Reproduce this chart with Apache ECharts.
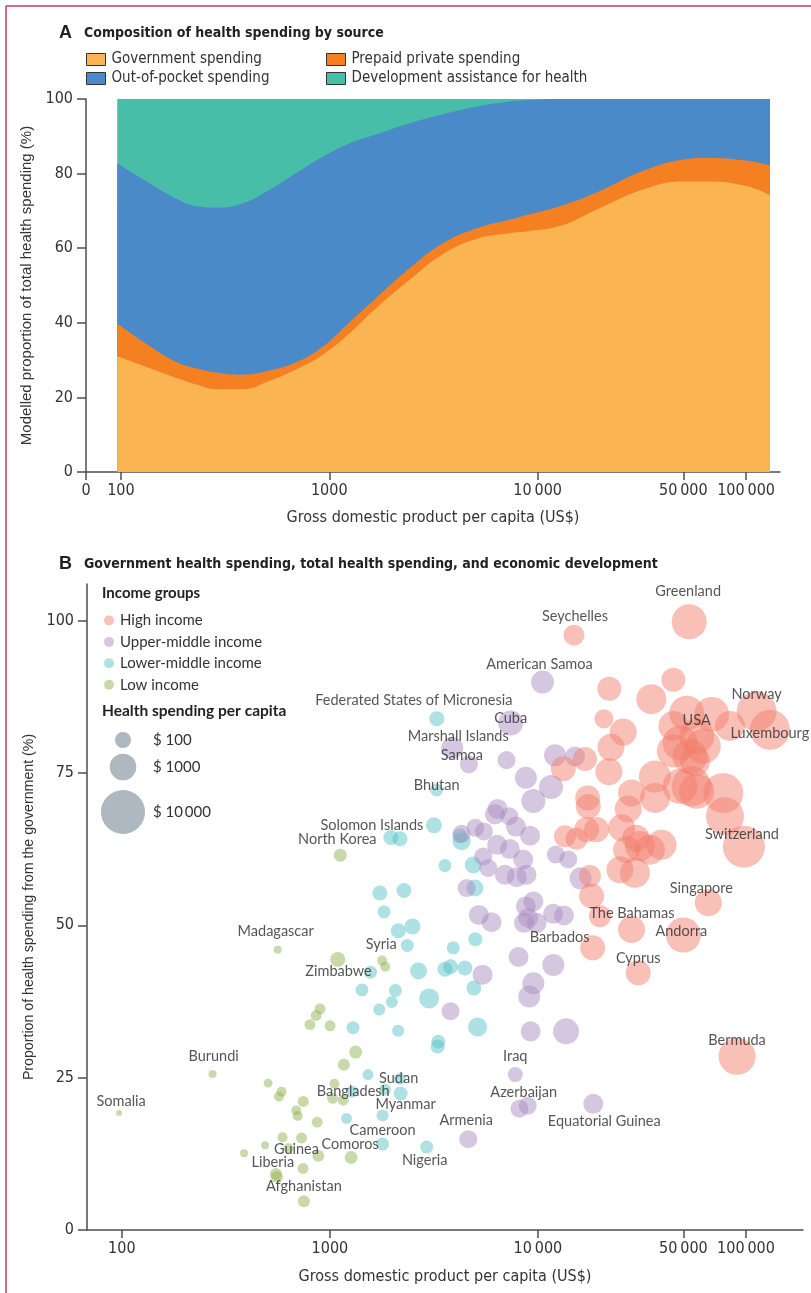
<!DOCTYPE html>
<html><head><meta charset="utf-8">
<script src="https://cdn.jsdelivr.net/npm/echarts@6/dist/echarts.min.js"></script>
<style>html,body{margin:0;padding:0;background:#fff}#c{width:811px;height:1293px}</style>
</head><body><div id="c"></div>
<script>
// ---------- Panel A: composition of health spending by source (modelled %, by GDP per capita) ----------
const compositionGdp    = [96, 126, 183, 229, 285, 383, 515, 692, 929, 1247, 1675, 2427, 3508, 5070, 7328, 9162, 12882, 19275, 32359, 50119, 64565, 100000, 130317];
const governmentShare   = [31.0, 28.6, 25.3, 23.5, 22.2, 22.2, 24.4, 27.5, 31.4, 37.1, 43.9, 51.5, 58.4, 62.5, 64.0, 64.6, 66.0, 70.4, 75.8, 77.9, 77.9, 76.7, 74.2];
const prepaidShare      = [8.9, 6.6, 4.3, 4.3, 4.5, 3.9, 2.8, 1.9, 2.2, 3.0, 2.7, 3.1, 2.9, 2.8, 3.6, 4.5, 5.3, 4.6, 5.0, 5.9, 6.3, 6.8, 8.0];
const outOfPocketShare  = [42.9, 43.5, 43.8, 43.5, 44.2, 45.9, 48.4, 50.7, 50.9, 48.0, 43.9, 38.9, 34.6, 32.6, 31.7, 30.6, 28.7, 25.0, 19.2, 16.2, 15.8, 16.5, 17.8];
const dahShare          = [17.2, 21.3, 26.6, 28.7, 29.1, 28.0, 24.4, 19.9, 15.5, 11.9, 9.5, 6.5, 4.1, 2.1, 0.7, 0.3, 0, 0, 0, 0, 0, 0, 0];

// ---------- Axis ticks ----------
const gdpTicks = [100, 1000, 10000, 50000, 100000];
const gdpTickLabels = ['100', '1000', '10\u2009000', '50\u2009000', '100\u2009000'];
const shareTicksA = [0, 20, 40, 60, 80, 100];
const shareTicksB = [0, 25, 50, 75, 100];

// ---------- Panel B: [GDP per capita US$, % of health spending from government, health spending per capita US$, label] ----------
const highIncome = [
 [53330, 99.8, 3510, 'Greenland'], [14894, 97.6, 344, 'Seychelles'], [44771, 90.3, 631], [22029, 88.8, 631],
 [35075, 87.1, 1740], [20749, 83.9, 218], [25704, 81.7, 1080], [22439, 79.2, 1080], [16827, 77.3, 631],
 [13243, 75.7, 760], [21928, 75.2, 1080], [112460, 85.1, 6440, 'Norway'], [130320, 82.1, 6440, 'Luxembourg'],
 [51880, 84.8, 3510], [68391, 84.6, 3510, 'USA'], [83750, 82.7, 1740], [44771, 82.7, 1740], [57943, 81.0, 3510],
 [48195, 79.9, 3510], [62373, 79.4, 3510], [44771, 78.6, 2690], [53827, 77.7, 3510], [56885, 76.9, 1740],
 [36475, 74.4, 2330], [54702, 72.8, 6440], [57943, 72.0, 3510], [48195, 72.8, 3510], [77804, 71.7, 6440],
 [79250, 67.9, 5100], [36559, 70.9, 1740], [28184, 71.7, 1080], [27164, 69.1, 1080], [17338, 70.9, 760],
 [17458, 69.5, 760], [97724, 62.9, 8030, 'Switzerland'], [13490, 64.6, 425], [15346, 64.2, 425],
 [19143, 65.7, 760], [17140, 65.7, 760], [25235, 66.0, 1080], [29580, 64.3, 1080], [30903, 63.0, 1740],
 [26669, 62.4, 1080], [34514, 62.4, 1740], [39264, 63.2, 1740], [24774, 59.1, 1080], [29242, 58.6, 1740],
 [17783, 58.1, 425], [18113, 54.8, 760], [19861, 51.5, 425, 'The Bahamas'], [28184, 49.3, 1080],
 [50003, 48.4, 3510, 'Andorra'], [18323, 46.3, 760, 'Barbados'], [30339, 42.2, 760, 'Cyprus'],
 [65917, 53.7, 1080, 'Singapore'], [90573, 28.5, 4520, 'Bermuda']
];
const upperMiddleIncome = [
 [10520, 89.9, 520, 'American Samoa'], [7396, 83.2, 760, 'Cuba'], [3873, 79.1, 425, 'Marshall Islands'],
 [4656, 76.4, 171, 'Samoa'], [7063, 77.1, 171], [12078, 77.9, 425], [15066, 77.7, 276], [8750, 74.2, 425],
 [11561, 72.7, 631], [9506, 70.4, 631], [6397, 69.1, 276], [6209, 68.2, 276], [7278, 67.9, 171],
 [7834, 66.2, 276], [9162, 64.7, 276], [5000, 66.0, 171], [5495, 65.4, 171], [4295, 65.0, 171],
 [6368, 63.2, 276], [7328, 62.5, 276], [8492, 60.8, 276], [5458, 61.3, 171], [5768, 59.4, 171],
 [6934, 58.3, 276], [7907, 57.9, 276], [8810, 58.3, 276], [12190, 61.6, 171], [13996, 60.8, 171],
 [16032, 57.7, 425], [4539, 56.1, 171], [9506, 53.9, 276], [8750, 53.1, 276], [8974, 51.2, 276],
 [8570, 50.4, 276], [9863, 50.4, 276], [11830, 51.9, 276], [13335, 51.6, 276], [5200, 51.7, 276],
 [5984, 50.5, 276], [8072, 44.8, 276], [11858, 43.5, 425], [5420, 41.9, 276], [9506, 40.5, 425],
 [9078, 38.3, 425], [3802, 35.9, 171], [9226, 32.6, 276], [13646, 32.6, 909], [7780, 25.5, 75, 'Iraq'],
 [8147, 19.9, 171], [8933, 20.4, 171, 'Azerbaijan'], [18450, 20.7, 276, 'Equatorial Guinea'],
 [4624, 14.9, 171, 'Armenia']
];
const lowerMiddleIncome = [
 [3266, 83.9, 75, 'Federated States of Micronesia'], [3258, 72.2, 39, 'Bhutan'], [3162, 66.4, 100, 'Solomon Islands'],
 [1963, 64.4, 75], [2173, 64.2, 75], [4217, 64.7, 75], [4295, 63.8, 171], [3573, 59.8, 39], [4887, 59.9, 132],
 [4977, 56.1, 132], [1738, 55.3, 75], [2270, 55.7, 75], [1820, 52.2, 39], [2495, 49.8, 100], [2133, 49.1, 75],
 [2355, 46.7, 39, 'Syria'], [3917, 46.3, 39], [5000, 47.7, 54], [2667, 42.5, 132], [3573, 42.8, 75],
 [3802, 43.2, 75], [4457, 43.0, 75], [1567, 42.3, 39, 'Zimbabwe'], [1426, 39.4, 39], [2065, 39.3, 39],
 [1986, 37.4, 27], [1726, 36.2, 27], [2999, 38.0, 276], [4920, 39.7, 75], [1291, 33.2, 39], [2128, 32.7, 27],
 [5129, 33.3, 218], [3319, 30.9, 54], [3296, 30.1, 54], [1524, 25.5, 18], [2188, 22.4, 54, 'Sudan'],
 [1279, 22.7, 27], [2173, 24.8, 27], [1837, 23.0, 27], [1791, 18.8, 27, 'Myanmar'], [1202, 18.3, 18],
 [1791, 14.1, 39, 'Cameroon'], [2917, 13.6, 39, 'Nigeria']
];
const lowIncome = [
 [97, 19.2, 1.2, 'Somalia'], [273, 25.6, 4.3, 'Burundi'], [561, 46.0, 4.3, 'Madagascar'],
 [1122, 61.5, 39, 'North Korea'], [1091, 44.4, 75], [1782, 44.2, 12], [1845, 43.2, 12], [897, 36.3, 18],
 [859, 35.2, 18], [802, 33.7, 18], [1002, 33.5, 18], [1330, 29.2, 39], [1167, 27.1, 27], [505, 24.1, 7],
 [586, 22.7, 12], [569, 21.9, 12], [745, 21.1, 18], [1052, 24.0, 12], [1030, 21.6, 18],
 [1159, 21.3, 18, 'Bangladesh'], [689, 19.6, 12], [700, 18.7, 12], [869, 17.7, 18], [592, 15.2, 12],
 [731, 15.1, 18], [488, 13.9, 4.3], [387, 12.6, 4.3], [632, 13.4, 12, 'Guinea'], [879, 12.2, 27],
 [1265, 11.9, 39, 'Comoros'], [743, 10.1, 18], [550, 9.2, 27, 'Liberia'], [556, 8.7, 27],
 [750, 4.7, 27, 'Afghanistan']
];
const spendLegendValues = [100, 1000, 10000];
const spendLegendLabels = ['$ 100', '$ 1000', '$ 10\u2009000'];

// ---------- styles (not data) ----------
const NARROW = "'Liberation Sans Narrow','DejaVu Sans Condensed',sans-serif";
const LABELF = "Lato,'Liberation Sans',sans-serif";
const AXF = "'Liberation Sans',Arial,sans-serif";
const TXT = '#333';
const AXC = '#4d4d4d';
const labelOffsets = {
 'Greenland':[-1,-30],'Seychelles':[1,-19],'American Samoa':[-3,-18],'Federated States of Micronesia':[-23,-18],
 'Cuba':[0,-5],'Marshall Islands':[6,-12],'Samoa':[-7,-9],'Bhutan':[0,-5],'Solomon Islands':[-62,0],
 'North Korea':[-3,-16],'Madagascar':[-2,-18],'Syria':[-26,-1],'Zimbabwe':[-32,-1],'Burundi':[1,-18],
 'Somalia':[2,-12],'Sudan':[-2,-15],'Bangladesh':[10,-9],'Myanmar':[23,-11],'Cameroon':[0,-14],
 'Armenia':[-2,-19],'Iraq':[0,-18],'Azerbaijan':[-4,-13],'Equatorial Guinea':[11,17],'Comoros':[-1,-13],
 'Guinea':[8,1],'Liberia':[-3,-12],'Nigeria':[-2,13],'Afghanistan':[0,-15],'Norway':[0,-17],'USA':[-15,6],
 'Luxembourg':[0,4],'Switzerland':[-2,-12],'Singapore':[-7,-14],'The Bahamas':[32,-3],'Andorra':[-2,-4],
 'Barbados':[-33,-11],'Cyprus':[0,-14],'Bermuda':[0,-16]
};
const sizeFor = s => 16 * Math.pow(s / 100, 0.22);
const lg = Math.log10;
const X_MIN = lg(68);

// cumulative boundaries of the stacked shares (stacking done here, drawn top layer first)
const layers = [governmentShare, prepaidShare, outOfPocketShare, dahShare];
const cumulative = layers.map((_, k) => compositionGdp.map((g, i) => {
  let s = 0; for (let j = 0; j <= k; j++) s += layers[j][i]; return +s.toFixed(2);
}));

function areaSeries(name, tops, color) {
  return {
    name, type: 'line', xAxisIndex: 0, yAxisIndex: 0, smooth: 0.45,
    showSymbol: false, symbol: 'none', color, itemStyle: {color},
    lineStyle: {width: 0}, areaStyle: {color, opacity: 1},
    data: compositionGdp.map((g, i) => [lg(g), tops[i]]), silent: true
  };
}
function scatterSeries(name, arr, color) {
  return {
    name, type: 'scatter', xAxisIndex: 1, yAxisIndex: 1,
    itemStyle: {color},
    symbolSize: v => sizeFor(v[2]),
    data: arr.map(d => {
      const item = {value: [lg(d[0]), d[1], d[2]]};
      if (d[3]) {
        item.name = d[3];
        item.label = {show: true, position: 'inside', offset: labelOffsets[d[3]] || [0, 0],
          formatter: d[3], color: '#2b2b2b', fontFamily: LABELF, fontSize: 14.5};
      }
      return item;
    })
  };
}

const tickValsA = [X_MIN].concat(gdpTicks.map(lg));
const tickLabsA = ['0'].concat(gdpTickLabels);
const tickValsB = gdpTicks.map(lg);
function fmtFrom(vals, labs) {
  return v => { for (let i = 0; i < vals.length; i++) if (Math.abs(vals[i] - v) < 1e-6) return labs[i]; return ''; };
}

const axisLineStyle = {show: true, lineStyle: {color: AXC, width: 1.5}};
const chart = echarts.init(document.getElementById('c'), null, {renderer: 'canvas'});

const graphic = [
  {type: 'line', shape: {x1: 6, y1: 6, x2: 6, y2: 1293}, style: {stroke: '#c8385f', lineWidth: 1.5}},
  {type: 'line', shape: {x1: 6, y1: 6, x2: 811, y2: 6}, style: {stroke: '#c8385f', lineWidth: 1.5}},
  {type: 'text', x: 59, y: 33, style: {text: 'A', fontFamily: AXF, fontWeight: 'bold', fontSize: 18, fill: '#222', verticalAlign: 'middle'}},
  {type: 'text', x: 84, y: 33, style: {text: 'Composition of health spending by source', fontFamily: NARROW, fontWeight: 'bold', fontSize: 14, fill: '#222', verticalAlign: 'middle'}},
  {type: 'text', x: 59, y: 564, style: {text: 'B', fontFamily: AXF, fontWeight: 'bold', fontSize: 18, fill: '#222', verticalAlign: 'middle'}},
  {type: 'text', x: 84, y: 564, style: {text: 'Government health spending, total health spending, and economic development', fontFamily: NARROW, fontWeight: 'bold', fontSize: 14, fill: '#222', verticalAlign: 'middle'}},
  {type: 'text', x: 102, y: 593, style: {text: 'Income groups', fontFamily: LABELF, fontWeight: 'bold', fontSize: 15, fill: '#222', verticalAlign: 'middle'}},
  {type: 'text', x: 102, y: 711, style: {text: 'Health spending per capita', fontFamily: LABELF, fontWeight: 'bold', fontSize: 15.5, fill: '#222', verticalAlign: 'middle'}}
];
const legendYs = [740, 767, 812];
spendLegendValues.forEach((s, i) => {
  graphic.push({type: 'circle', shape: {cx: 123, cy: legendYs[i], r: sizeFor(s) / 2}, style: {fill: '#aeb8c1'}});
  graphic.push({type: 'text', x: 153, y: legendYs[i], style: {text: spendLegendLabels[i], fontFamily: LABELF, fontSize: 15, fill: TXT, verticalAlign: 'middle'}});
});

chart.setOption({
  animation: false,
  backgroundColor: '#fff',
  graphic,
  legend: [
    {data: ['Government spending', 'Out-of-pocket spending'], left: 86, top: 52, padding: 0, orient: 'vertical',
     itemWidth: 19, itemHeight: 12, itemGap: 4, icon: 'rect', selectedMode: false,
     itemStyle: {borderColor: '#333', borderWidth: 1},
     textStyle: {fontFamily: NARROW, fontSize: 15, color: TXT, padding: [0, 0, 0, 1]}},
    {data: ['Prepaid private spending', 'Development assistance for health'], left: 326, top: 52, padding: 0, orient: 'vertical',
     itemWidth: 19, itemHeight: 12, itemGap: 4, icon: 'rect', selectedMode: false,
     itemStyle: {borderColor: '#333', borderWidth: 1},
     textStyle: {fontFamily: NARROW, fontSize: 15, color: TXT, padding: [0, 0, 0, 1]}},
    {data: ['High income', 'Upper-middle income', 'Lower-middle income', 'Low income'], left: 104, top: 613, padding: 0, orient: 'vertical',
     itemWidth: 10, itemHeight: 10, itemGap: 6.4, icon: 'circle', selectedMode: false,
     textStyle: {fontFamily: LABELF, fontSize: 15, color: TXT, padding: [0, 0, 0, 1]}}
  ],
  grid: [
    {left: 86, top: 99, width: 694, height: 373},
    {left: 87, top: 584, width: 716, height: 646}
  ],
  xAxis: [
    {type: 'value', gridIndex: 0, min: X_MIN, max: 5.163,
     name: 'Gross domestic product per capita (US$)', nameLocation: 'middle', nameGap: 38,
     nameTextStyle: {fontFamily: NARROW, fontSize: 16, color: TXT},
     axisLine: axisLineStyle, splitLine: {show: false},
     axisTick: {show: true, customValues: tickValsA, length: 8, lineStyle: {color: AXC, width: 1.5}},
     axisLabel: {customValues: tickValsA, formatter: fmtFrom(tickValsA, tickLabsA), fontFamily: NARROW, fontSize: 16, color: TXT, margin: 11}},
    {type: 'value', gridIndex: 1, min: X_MIN, max: 5.274,
     name: 'Gross domestic product per capita (US$)', nameLocation: 'middle', nameGap: 39,
     nameTextStyle: {fontFamily: NARROW, fontSize: 16, color: TXT},
     axisLine: axisLineStyle, splitLine: {show: false},
     axisTick: {show: true, customValues: tickValsB, length: 8, lineStyle: {color: AXC, width: 1.5}},
     axisLabel: {customValues: tickValsB, formatter: fmtFrom(tickValsB, gdpTickLabels), fontFamily: NARROW, fontSize: 16, color: TXT, margin: 11}}
  ],
  yAxis: [
    {type: 'value', gridIndex: 0, min: 0, max: 100,
     name: 'Modelled proportion of total health spending (%)', nameLocation: 'middle', nameGap: 48,
     nameTextStyle: {fontFamily: AXF, fontSize: 15, color: TXT},
     axisLine: axisLineStyle, splitLine: {show: false},
     axisTick: {show: true, customValues: shareTicksA, length: 9, lineStyle: {color: AXC, width: 1.5}},
     axisLabel: {customValues: shareTicksA, fontFamily: NARROW, fontSize: 16, color: TXT, margin: 13}},
    {type: 'value', gridIndex: 1, min: 0, max: 106,
     name: 'Proportion of health spending from the government (%)', nameLocation: 'middle', nameGap: 49,
     nameTextStyle: {fontFamily: AXF, fontSize: 14.2, color: TXT},
     axisLine: axisLineStyle, splitLine: {show: false},
     axisTick: {show: true, customValues: shareTicksB, length: 9, lineStyle: {color: AXC, width: 1.5}},
     axisLabel: {customValues: shareTicksB, fontFamily: NARROW, fontSize: 16, color: TXT, margin: 13}}
  ],
  series: [
    areaSeries('Development assistance for health', cumulative[3], '#48bea8'),
    areaSeries('Out-of-pocket spending', cumulative[2], '#4a8ac8'),
    areaSeries('Prepaid private spending', cumulative[1], '#f48022'),
    areaSeries('Government spending', cumulative[0], '#fbb452'),
    scatterSeries('Low income', lowIncome, 'rgba(143,178,77,0.6)'),
    scatterSeries('Lower-middle income', lowerMiddleIncome, 'rgba(83,192,197,0.6)'),
    scatterSeries('Upper-middle income', upperMiddleIncome, 'rgba(169,137,193,0.6)'),
    scatterSeries('High income', highIncome, 'rgba(242,123,107,0.6)')
  ]
});
</script></body></html>
